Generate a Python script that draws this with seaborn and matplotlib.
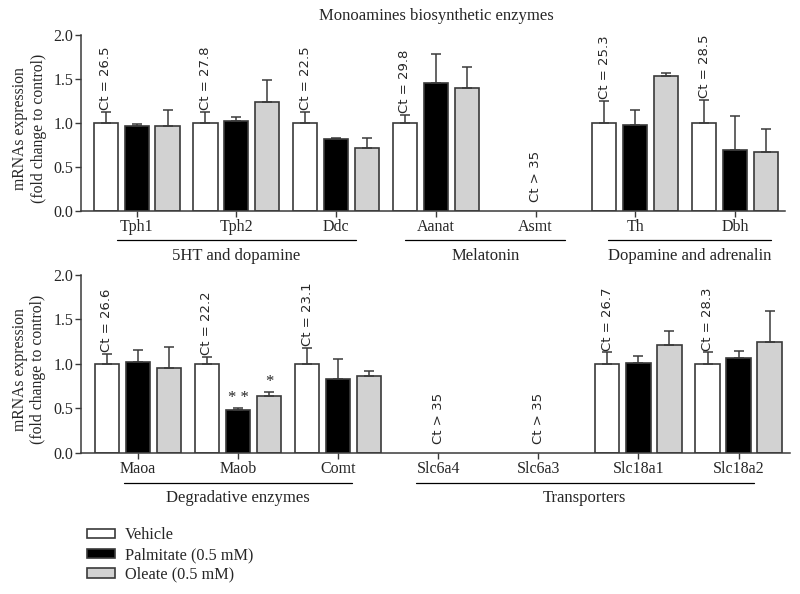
#!/usr/bin/env python3

import numpy as np
import pandas as pd
import seaborn as sns
import matplotlib.pyplot as plt
import matplotlib.transforms as mtransforms

nan = np.nan

treatments = ["Vehicle", "Palmitate (0.5 mM)", "Oleate (0.5 mM)"]
colors = ["white", "black", "#d2d2d2"]

# top panel: biosynthetic enzymes
top_genes = ["Tph1", "Tph2", "Ddc", "Aanat", "Asmt", "Th", "Dbh"]
top_vehicle = [1.0, 1.0, 1.0, 1.0, nan, 1.0, 1.0]
top_vehicle_err = [0.13, 0.13, 0.13, 0.09, nan, 0.25, 0.26]
top_palm = [0.96, 1.02, 0.82, 1.45, nan, 0.98, 0.69]
top_palm_err = [0.03, 0.05, 0.01, 0.34, nan, 0.17, 0.39]
top_oleate = [0.96, 1.24, 0.72, 1.40, nan, 1.53, 0.67]
top_oleate_err = [0.19, 0.25, 0.11, 0.24, nan, 0.04, 0.26]
top_ct = ["Ct = 26.5", "Ct = 27.8", "Ct = 22.5", "Ct = 29.8", "Ct > 35",
          "Ct = 25.3", "Ct = 28.5"]
top_groups = [("5HT and dopamine", -0.2, 2.2),
              ("Melatonin", 2.69, 4.3),
              ("Dopamine and adrenalin", 4.73, 6.36)]
top_stars = []

# bottom panel: degradation and transport
bot_genes = ["Maoa", "Maob", "Comt", "Slc6a4", "Slc6a3", "Slc18a1", "Slc18a2"]
bot_vehicle = [1.0, 1.0, 1.0, nan, nan, 1.0, 1.0]
bot_vehicle_err = [0.11, 0.08, 0.18, nan, nan, 0.13, 0.13]
bot_palm = [1.02, 0.48, 0.83, nan, nan, 1.01, 1.07]
bot_palm_err = [0.14, 0.03, 0.23, nan, nan, 0.08, 0.08]
bot_oleate = [0.95, 0.64, 0.86, nan, nan, 1.21, 1.25]
bot_oleate_err = [0.24, 0.05, 0.06, nan, nan, 0.16, 0.34]
bot_ct = ["Ct = 26.6", "Ct = 22.2", "Ct = 23.1", "Ct > 35", "Ct > 35",
          "Ct = 26.7", "Ct = 28.3"]
bot_groups = [("Degradative enzymes", -0.14, 2.14),
              ("Transporters", 2.78, 6.15)]
bot_stars = [("Maob", 1, "* *"), ("Maob", 2, "*")]


sns.set_style("ticks")
plt.rcParams["font.family"] = ["Liberation Serif", "DejaVu Serif"]
plt.rcParams["font.size"] = 11.5
EDGE = "#3a3a3a"


def draw_panel(ax, genes, means, errs, ct, groups, stars, legend=False):
    rows = []
    for t, vals in zip(treatments, means):
        for g, v in zip(genes, vals):
            rows.append({"gene": g, "treatment": t, "value": v})
    df = pd.DataFrame(rows)

    sns.barplot(data=df, x="gene", y="value", hue="treatment", order=genes,
                hue_order=treatments, palette=colors, width=0.93, gap=0.22,
                errorbar=None, edgecolor=EDGE, linewidth=1.2, ax=ax,
                legend=legend)

    # upper-only error bars, read bar centres from the drawn patches
    bar_pos = {}
    bar_conts = list(ax.containers)
    for t, cont in enumerate(bar_conts):
        for bar in cont:
            h = bar.get_height()
            if not np.isfinite(h):
                continue
            xc = bar.get_x() + bar.get_width() / 2
            k = int(round(xc))
            e = errs[t][k]
            ax.errorbar(xc, h, yerr=[[0], [e]], fmt="none", ecolor=EDGE,
                        elinewidth=1.1, capsize=3.6, capthick=1.1, zorder=1)
            bar_pos[(k, t)] = (xc, h + e)

    for k, label in enumerate(ct):
        if (k, 0) in bar_pos:
            xc, top = bar_pos[(k, 0)]
            ax.text(xc, top + 0.02, label, rotation=90, ha="center",
                    va="bottom", family="DejaVu Sans", fontsize=9.5)
        else:
            ax.text(k, 0.1, label, rotation=90, ha="center", va="bottom",
                    family="DejaVu Sans", fontsize=9.5)

    for g, t, s in stars:
        xc, top = bar_pos[(genes.index(g), t)]
        ax.text(xc, top + 0.02, s, ha="center", va="bottom", fontsize=12)

    trans = mtransforms.blended_transform_factory(ax.transData, ax.transAxes)
    for name, x0, x1 in groups:
        ax.plot([x0, x1], [-0.168, -0.168], transform=trans, clip_on=False,
                color="black", lw=0.9)
        ax.text((x0 + x1) / 2, -0.255, name, transform=trans, ha="center",
                va="center", fontsize=12)

    ax.set_ylim(0, 2)
    ax.set_yticks([0, 0.5, 1.0, 1.5, 2.0])
    ax.set_yticklabels(["%.1f" % v for v in [0, 0.5, 1.0, 1.5, 2.0]])
    ax.set_xlabel("")
    ax.set_ylabel("")
    ax.text(-0.073, 0.47, "mRNAs expression\n(fold change to control)",
            transform=ax.transAxes, rotation=90, ha="center", va="center",
            linespacing=1.2, fontsize=11.3)
    sns.despine(ax=ax)
    for sp in ["left", "bottom"]:
        ax.spines[sp].set_color(EDGE)
        ax.spines[sp].set_linewidth(1.1)
    ax.tick_params(length=4, width=1.0, color=EDGE, pad=1.5, labelsize=11.5)


fig = plt.figure(figsize=(8, 5.94), dpi=100)
ax1 = fig.add_axes([0.101, 0.645, 0.88, 0.296])
ax2 = fig.add_axes([0.101, 0.2374, 0.886, 0.2997])

draw_panel(ax1, top_genes, [top_vehicle, top_palm, top_oleate],
           [top_vehicle_err, top_palm_err, top_oleate_err], top_ct,
           top_groups, top_stars, legend=True)
ax1.set_xlim(-0.56, 6.5)

draw_panel(ax2, bot_genes, [bot_vehicle, bot_palm, bot_oleate],
           [bot_vehicle_err, bot_palm_err, bot_oleate_err], bot_ct,
           bot_groups, bot_stars)
ax2.set_xlim(-0.57, 6.51)

handles, labels = ax1.get_legend_handles_labels()
ax1.get_legend().remove()
fig.legend(handles, labels, loc="upper left",
           bbox_to_anchor=(87 / 800, 1 - 527 / 594), frameon=False,
           handlelength=1.75, handleheight=0.5, handletextpad=0.6,
           labelspacing=0.24, borderpad=0, borderaxespad=0, fontsize=11.7)

fig.text(436 / 800, 1 - 16 / 594, "Monoamines biosynthetic enzymes",
         ha="center", va="center", fontsize=12)

fig.savefig("out.png", dpi=100)
